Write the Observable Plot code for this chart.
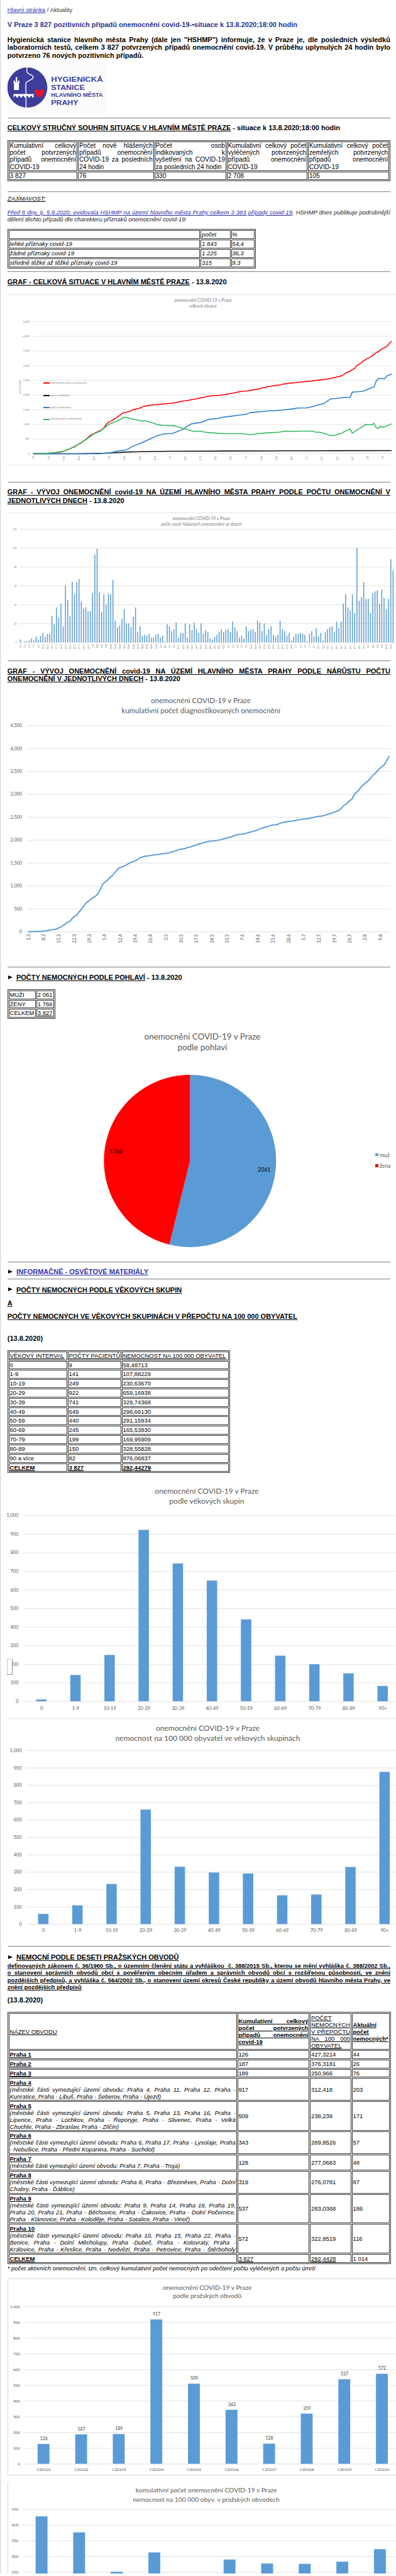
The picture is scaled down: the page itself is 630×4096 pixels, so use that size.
<!DOCTYPE html>
<html lang="cs"><head><meta charset="utf-8">
<script src="https://cdn.jsdelivr.net/npm/d3@7"></script>
<script src="https://cdn.jsdelivr.net/npm/@observablehq/plot@0.6"></script>
<style>
html,body{margin:0;padding:0;background:#fff;}
#page{position:relative;width:800px;height:5200px;overflow:hidden;zoom:0.787;font-family:"Liberation Sans",Arial,sans-serif;color:#000;background:#fff;}
.a{position:absolute;white-space:nowrap;}
.u{text-decoration:underline;}
.b{font-weight:bold;}
.i{font-style:italic;}
.lnk{color:#2b2ba6;text-decoration:underline;}
.hr{position:absolute;left:15px;width:774px;height:0;border-top:1px solid #9a9a9a;border-bottom:1px solid #dedede;}
.j{text-align:justify;text-align-last:justify;white-space:nowrap;}
.tri{display:block;width:0;height:0;border-left:9px solid #000;border-top:4.5px solid transparent;border-bottom:4.5px solid transparent;}
table.t{position:absolute;border-collapse:separate;border-spacing:2px;border:1px solid #333;table-layout:fixed;font-size:13px;}
table.t td{border:1px solid #333;vertical-align:middle;white-space:nowrap;box-sizing:border-box;}
table.s12{font-size:12px;}
table.it td{font-style:italic;}
.ct{position:absolute;font-family:Lato,sans-serif;color:#595959;text-align:center;white-space:nowrap;transform:translateX(-50%);}
</style></head>
<body><div id="page"></div>
<script>
// ================= DATA =================
const dayLabels = d3.timeDay.range(new Date(2020, 2, 1), new Date(2020, 7, 14))
  .map(d => `${d.getDate()}.${d.getMonth() + 1}`);           // 1.3 ... 13.8
const newCases = [
  3,0,1,1,2,4,2,6,3,7,10,6,9,9,
  28,19,37,26,41,17,60,
  45,28,64,51,64,67,43,
  36,37,33,33,52,93,99,
  53,32,51,40,52,51,66,
  23,16,18,25,35,20,20,
  16,27,37,11,17,7,8,
  7,9,5,5,8,9,5,
  7,1,19,17,12,14,21,
  5,10,10,20,5,19,13,
  21,14,10,
  20,9,13,11,4,3,6,8,11,
  14,11,13,14,11,22,16,12,5,7,4,17,12,13,14,11,23,21,12,20,
  8,14,17,8,6,8,23,14,12,7,10,2,6,9,9,10,9,8,1,9,12,6,15,6,10,2,11,14,16,17,11,22,15,22,41,51,37,34,51,31,100,
  44,48,64,46,46,31,52,54,55,41,56,47,35,46,
  88,76];
const weekTicks = [0,7,14,21,28,35,42,49,56,63,70,77,84,91,98,105,112,119,126,133,140,147,154,161];
const cumTicks = [0,500,1000,1500,2000,2500,3000,3500,4000,4500];
const dailyTicks = [0,20,40,60,80,100,120];
const recovered = [[0,0],[30,0],[35,28],[39,95],[43,135],[46,264],[49,343],[52,444],[55,545],[57,612],[60,674],[64,690],[66,742],[69,837],[71,938],[73,1023],[77,1062],[78,1085],[81,1175],[85,1197],[87,1242],[91,1276],[94,1304],[98,1343],[100,1399],[105,1433],[108,1455],[112,1472],[115,1489],[119,1523],[122,1556],[126,1562],[129,1613],[131,1658],[134,1714],[137,1871],[139,1877],[142,1905],[144,1916],[146,1916],[147,2101],[149,2107],[152,2130],[155,2220],[157,2276],[158,2484],[159,2557],[162,2557],[163,2653],[165,2708]];
const deaths = [[0,0],[21,0],[24,2],[28,8],[33,20],[35,30],[40,45],[42,55],[49,70],[56,78],[63,83],[84,88],[88,93],[112,97],[114,101],[140,103],[165,105]];
const active = [[0,0],[7,19],[10,39],[14,90],[17,170],[21,330],[24,470],[28,680],[31,775],[33,900],[35,1006],[38,1096],[42,1236],[43,1242],[45,1191],[49,1130],[50,1107],[51,1130],[55,1051],[57,995],[59,967],[65,955],[68,882],[71,826],[74,759],[77,770],[79,731],[82,714],[87,686],[92,686],[96,686],[100,646],[103,680],[108,714],[113,731],[116,770],[120,759],[124,770],[129,770],[130,731],[132,731],[135,669],[137,613],[139,630],[142,697],[144,781],[146,843],[147,697],[149,798],[152,939],[153,995],[156,984],[157,1034],[158,882],[159,866],[160,939],[161,894],[165,1014]];

const summaryHeads = [
  ["Kumulativní celkový","počet potvrzených","případů onemocnění","COVID-19"],
  ["Počet nově hlášených","případů onemocnění","COVID-19 za posledních","24 hodin"],
  ["Počet osob","indikovaných k","vyšetření na COVID-19","za posledních 24 hodin"],
  ["Kumulativní celkový počet","vyléčených potvrzených","případů onemocnění","COVID-19"],
  ["Kumulativní celkový počet","zemřelých potvrzených","případů onemocnění","COVID-19"]];
const summaryValues = ["3 827","76","330","2 708","105"];

const symptomLabels = ["lehké příznaky covid-19","žádné příznaky covid-19","středně těžké až těžké příznaky covid-19"];
const symptomCounts = ["1 843","1 225","315"];
const symptomPct = ["54,4","36,3","9,3"];

const genderLabels = ["muž","žena"];
const genderValues = [2061, 1766];
const genderColors = ["#5b9bd5","#ff0000"];

const ageGroups = ["0","1-9","10-19","20-29","30-39","40-49","50-59","60-69","70-79","80-89","90+"];
const ageTableLabels = ["0","1-9","10-19","20-29","30-39","40-49","50-59","60-69","70-79","80-89","90 a více"];
const ageCases = [9,141,249,922,741,649,440,245,199,150,82];
const ageRate = [58.48713,107.88229,230.6367,659.16938,329.74368,296.6613,291.15934,165.5383,169.95909,328.55828,876.06837];
const ageTicks = [0,100,200,300,400,500,600,700,800,900,1000];

const districtNames = ["Praha 1","Praha 2","Praha 3","Praha 4","Praha 5","Praha 6","Praha 7","Praha 8","Praha 9","Praha 10"];
const districtCodes = ["CZ0101","CZ0102","CZ0103","CZ0104","CZ0105","CZ0106","CZ0107","CZ0108","CZ0109","CZ010A"];
const districtCases = [126,187,189,917,509,343,128,319,537,572];
const districtRate = [427.3214,376.3181,250.966,312.418,238.239,289.8526,277.0683,276.0781,283.0368,322.8519];
const districtActive = [44,26,76,203,171,57,48,87,186,116];
const districtParts = [[],[],[],
  ["(městské části vymezující území obvodu: Praha 4, Praha 11, Praha 12, Praha -","Kunratice, Praha - Libuš, Praha - Šeberov, Praha - Újezd)"],
  ["(městské části vymezující území obvodu: Praha 5, Praha 13, Praha 16, Praha -","Lipence, Praha - Lochkov, Praha - Řeporyje, Praha - Slivenec, Praha - Velká","Chuchle, Praha - Zbraslav, Praha - Zličín)"],
  ["(městské části vymezující území obvodu: Praha 6, Praha 17, Praha - Lysolaje, Praha","- Nebušice, Praha - Přední Kopanina, Praha - Suchdol)"],
  ["(městské části vymezující území obvodu: Praha 7, Praha - Troja)"],
  ["(městské části vymezující území obvodu: Praha 8, Praha - Březiněves, Praha - Dolní","Chabry, Praha - Ďáblice)"],
  ["(městské části vymezující území obvodu: Praha 9, Praha 14, Praha 18, Praha 19,","Praha 20, Praha 21, Praha - Běchovice, Praha - Čakovice, Praha - Dolní Počernice,","Praha - Klánovice, Praha - Koloděje, Praha - Satalice, Praha - Vinoř)"],
  ["(městské části vymezující území obvodu: Praha 10, Praha 15, Praha 22, Praha -","Benice, Praha - Dolní Měcholupy, Praha -Dubeč, Praha - Kolovraty, Praha -","Královice, Praha - Křeslice, Praha - Nedvězí, Praha - Petrovice, Praha - Štěrboholy"]];
const districtTicks = [0,100,200,300,400,500,600,700,800,900,1000];
const rateTicks = [250,300,350,400,450];   // the ticks visible above the page's lower edge

// ================= HELPERS =================
const page = document.getElementById("page");
function put(x, y, html, css = "") {
  const d = document.createElement("div");
  d.className = "a";
  d.style.cssText = `left:${x}px;top:${y}px;${css}`;
  d.innerHTML = html;
  page.appendChild(d);
  return d;
}
function line(x, yc, html, {size = 13, lh = 16, css = ""} = {}) {
  return put(x, yc - lh / 2, html, `font-size:${size}px;line-height:${lh}px;${css}`);
}
function hr(y) { const d = document.createElement("div"); d.className = "hr"; d.style.top = (y - 1) + "px"; page.appendChild(d); }
function jl(lines, lastJ = false) {
  return lines.map((l, i) => `<div class="${(i < lines.length - 1 || lastJ) ? "j" : ""}">${l}</div>`).join("");
}
function secHead(yc, html, css = "") {
  put(17, yc - 4.5, `<span class="tri"></span>`);
  line(33, yc, html, {size: 14, css: "font-weight:bold;" + css});
}
function ctitle(xc, yc, text, size, color = "#595959") {
  const d = document.createElement("div");
  d.className = "ct";
  d.style.cssText = `left:${xc}px;top:${yc - size * 0.65}px;font-size:${size}px;line-height:${size * 1.3}px;color:${color}`;
  d.textContent = text;
  page.appendChild(d);
}
function box(x, y, w, h, css) { return put(x, y, "", `width:${w}px;height:${h}px;${css}`); }
function table(x, y, B, rows, {lh = 15, pad = "0 1px", cls = ""} = {}) {
  const t = document.createElement("table");
  t.className = "t " + cls;
  t.style.cssText = `left:${x}px;top:${y}px;width:${B[B.length - 1] - B[0]}px;line-height:${lh}px;`;
  rows.forEach((r, ri) => {
    const tr = t.insertRow();
    r.forEach((c, ci) => {
      const td = tr.insertCell();
      if (ri === 0) td.style.width = (B[ci + 1] - B[ci] - 2) + "px";
      td.style.padding = pad;
      td.innerHTML = c;
    });
  });
  page.appendChild(t);
  return t;
}
function mount(svg, x, y) { const d = put(x, y, ""); d.appendChild(svg); return d; }

// ================= PAGE TEXT =================
box(0, 0, 1.5, 5200, "background:#d0d0d0");
line(15, 21, `<span class="lnk" style="color:#3434a8">Hlavní stránka</span> <span style="color:#333">/ Aktuality</span>`, {size: 12});
line(15, 50, "V Praze 3 827 pozitivních případů onemocnění covid-19-•situace k 13.8.2020;18:00 hodin", {size: 14, css: "font-weight:bold;color:#2a3590"});
put(15, 72, jl([
  `Hygienická stanice hlavního města Prahy (dále jen "HSHMP") informuje, že v Praze je, dle posledních výsledků`,
  `laboratorních testů, celkem 3 827 potvrzených případů onemocnění covid-19. V průběhu uplynulých 24 hodin bylo`,
  `potvrzeno 76 nových pozitivních případů.`]), "width:774px;font-size:14px;line-height:16px;font-weight:bold");

// logo
put(15, 131, `<svg width="200" height="100" viewBox="0 0 200 100">
<rect width="200" height="100" fill="#fbfbfb"/>
<circle cx="40" cy="46" r="40.5" fill="#3d3d9b"/>
<g fill="#fff">
<rect x="13" y="36" width="10" height="15"/>
<rect x="12" y="32" width="3" height="5"/><rect x="16.5" y="32" width="3" height="5"/><rect x="21" y="32" width="3" height="5"/>
<rect x="16.5" y="25" width="3" height="8"/>
<path d="M12 59 H53 V66 H49.5 V63.5 Q47.5 61.5 45.5 63.5 V66 H41.5 V63.5 Q39.5 61.5 37.5 63.5 V66 H33.5 V63.5 Q31.5 61.5 29.5 63.5 V66 H25.5 V63.5 Q23.5 61.5 21.5 63.5 V66 H17.5 V63.5 Q15.5 61.5 13.5 63.5 V66 H12Z"/>
</g>
<path d="M39.5 1 L39 14 C39 19 52 19.5 52 25.5 C52 31.5 37 31 37 38 L37.5 92" fill="none" stroke="#fff" stroke-width="1.8"/>
<path d="M64.5 67 C53 58 53 50 58.5 49.5 C61.5 49.2 63.5 51 64.5 53 C65.5 51 67.5 49.2 70.5 49.5 C76 50 76 58 64.5 67Z" fill="#e8112d"/>
<g fill="#3d3d9b" font-family="Liberation Sans Narrow, Liberation Sans, Arial" font-weight="bold">
<text x="88" y="34.7" font-size="14" textLength="105" lengthAdjust="spacingAndGlyphs">HYGIENICKÁ</text>
<text x="88" y="50.7" font-size="14" textLength="68" lengthAdjust="spacingAndGlyphs">STANICE</text>
<text x="88" y="64.7" font-size="10.5" textLength="105" lengthAdjust="spacingAndGlyphs">HLAVNÍHO MĚSTA</text>
<text x="88" y="80.7" font-size="15" textLength="55" lengthAdjust="spacingAndGlyphs">PRAHY</text>
</g></svg>`);

hr(238);
line(15, 258, `<span class="u">CELKOVÝ STRUČNÝ SOUHRN SITUACE V HLAVNÍM MĚSTĚ PRAZE</span> - situace k 13.8.2020;18:00 hodin`, {size: 14, css: "font-weight:bold"});
table(15, 283, [15,156,311,458,623,789], [summaryHeads.map(h => jl(h)), summaryValues], {lh: 14.4});

hr(387);
line(15, 401, `<span class="u">ZAJÍMAVOST:</span>`, {size: 12, lh: 15, css: "font-style:italic"});
put(15, 422, jl([
  `<span class="lnk">Před 8 dny, tj. 5.8.2020, evidovala HSHMP na území hlavního města Prahy celkem 3 383 případy covid-19</span>, HSHMP dnes publikuje podrobnější`,
  `dělení těchto případů dle charekteru příznaků onemocnění covid-19:`]), "width:774px;font-size:12px;line-height:14px;font-style:italic;color:#222");
table(15, 463, [15,404,466,516],
  [["", "počet", "%"], ...symptomLabels.map((l, i) => [l, symptomCounts[i], symptomPct[i]])], {cls: "it s12"});

hr(549);
line(15, 570, `<span class="u">GRAF - CELKOVÁ SITUACE V HLAVNÍM MĚSTĚ PRAZE</span> - 13.8.2020`, {size: 14, css: "font-weight:bold"});

// ================= CHART 1: celková situace =================
box(15, 595, 785, 0, "border-top:1px solid #e4e4e4");
box(15, 939, 774, 0, "border-top:1px solid #e4e4e4");
ctitle(410, 607, "onemocnění COVID-19 v Praze", 8.5, "#7a7a7a");
ctitle(410, 618, "celková situace", 8.5, "#7a7a7a");
const caseRows = newCases.map((n, day) => ({day, n, date: dayLabels[day]}));
const c1 = Plot.plot({
  width: 800, height: 310, marginTop: 19, marginBottom: 24, marginLeft: 66, marginRight: 6,
  style: {fontFamily: "Lato, sans-serif", fontSize: "5px", color: "#7a7a7a", background: "none", overflow: "visible"},
  x: {type: "linear", domain: [0, 165], range: [67, 790.7], ticks: weekTicks, tickFormat: i => dayLabels[i], tickRotate: -90, tickSize: 0, tickPadding: 4, label: null},
  y: {domain: [0, 4500], ticks: cumTicks, tickSize: 0, tickPadding: 7, label: null},
  marks: [
    Plot.ruleY(cumTicks, {stroke: "#dcdcdc"}),
    Plot.lineY(caseRows, Plot.mapY("cumsum", {x: "day", y: "n", stroke: "#ff0000", strokeWidth: 2})),
    Plot.line(deaths, {x: d => d[0], y: d => d[1], stroke: "#111", strokeWidth: 2}),
    Plot.line(recovered, {x: d => d[0], y: d => d[1], stroke: "#2e7fd0", strokeWidth: 2}),
    Plot.line(active, {x: d => d[0], y: d => d[1], stroke: "#33bb5e", strokeWidth: 2})
  ]
});
mount(c1, 0, 630);
const c1Legend = [["kumulativní počet onemocnění", "#ff0000", 774], ["počet zemřelých", "#111", 799], ["počet vyléčených", "#2e7fd0", 823], ["aktuální počet nakažených", "#33bb5e", 847]];
c1Legend.forEach(([t, c, y]) => {
  box(88, y - 1.2, 13, 2.4, `background:${c}`);
  put(102, y - 4, t, "font-family:Lato,sans-serif;font-size:5.5px;line-height:8px;color:#7a7a7a");
});
put(41, 782, "počet osob", "font-family:Lato,sans-serif;font-size:5.5px;line-height:7px;color:#7a7a7a;transform:translate(-50%,-50%) rotate(-90deg)");

hr(974);
put(15, 986.5, jl([
  `<span class="u">GRAF - VÝVOJ ONEMOCNĚNÍ covid-19 NA ÚZEMÍ HLAVNÍHO MĚSTA PRAHY PODLE POČTU ONEMOCNĚNÍ V</span>`,
  `<span class="u">JEDNOTLIVÝCH DNECH</span> - 13.8.2020`]), "width:774px;font-size:14px;line-height:17px;font-weight:bold");

// ================= CHART 2: daily bars =================
box(15, 1036, 785, 0, "border-top:1px solid #e4e4e4");
ctitle(407, 1047, "onemocnění COVID-19 v Praze", 8.5, "#7a7a7a");
ctitle(407, 1059, "počty nově hlášených onemocnění ve dnech", 8.5, "#7a7a7a");
const c2 = Plot.plot({
  width: 800, height: 255, marginTop: 4, marginBottom: 22, marginLeft: 38.5, marginRight: 0,
  style: {fontFamily: "Lato, sans-serif", fontSize: "4.8px", color: "#7a7a7a", background: "none", overflow: "visible"},
  x: {type: "band", domain: dayLabels, range: [38.7, 796.9], paddingInner: 0.58, paddingOuter: 0.29, ticks: dayLabels.filter((d, i) => i % 2 === 0), tickRotate: -90, tickSize: 0, tickPadding: 4, label: null},
  y: {domain: [0, 120], ticks: dailyTicks, tickSize: 0, tickPadding: 5, label: null},
  marks: [
    Plot.ruleY(dailyTicks, {stroke: "#dcdcdc"}),
    Plot.barY(caseRows, {x: "date", y: "n", fill: "#5b9bd5"})
  ]
});
mount(c2, 0, 1065);

hr(1335);
put(15, 1348, jl([
  `<span class="u">GRAF - VÝVOJ ONEMOCNĚNÍ covid-19 NA ÚZEMÍ HLAVNÍHO MĚSTA PRAHY PODLE NÁRŮSTU POČTU</span>`,
  `<span class="u">ONEMOCNĚNÍ V JEDNOTLIVÝCH DNECH</span> - 13.8.2020`]), "width:774px;font-size:14px;line-height:16px;font-weight:bold");

// ================= CHART 3: cumulative =================
ctitle(406, 1415, "onemocnění COVID-19 v Praze", 14.7);
ctitle(406, 1435, "kumulativní počet diagnostikovaných onemocnění", 14.7);
const c3 = Plot.plot({
  width: 800, height: 460, marginTop: 10.7, marginBottom: 32.7, marginLeft: 55, marginRight: 11,
  style: {fontFamily: "Lato, sans-serif", fontSize: "9.2px", color: "#595959", background: "none", overflow: "visible"},
  x: {type: "linear", domain: [0, 165], range: [57, 786.3], ticks: weekTicks, tickFormat: i => dayLabels[i], tickRotate: -90, tickSize: 0, tickPadding: 4.5, label: null},
  y: {domain: [0, 4500], ticks: cumTicks, tickSize: 0, tickPadding: 11, label: null},
  marks: [
    Plot.ruleY(cumTicks, {stroke: "#d9d9d9"}),
    Plot.lineY(caseRows, Plot.mapY("cumsum", {x: "day", y: "n", stroke: "#5b9bd5", strokeWidth: 2.5}))
  ]
});
mount(c3, 0, 1455);

hr(1954);
secHead(1975, `<span class="u">POČTY NEMOCNÝCH PODLE POHLAVÍ</span> - 13.8.2020`);
table(15, 1998.5, [15,72,110], [["MUŽI","2 061"],["ŽENY","1 766"],["CELKEM",`<span class="u">3 827</span>`]], {cls: "s12"});

// ================= PIE =================
ctitle(409, 2095, "onemocnění COVID-19 v Praze", 17.1);
ctitle(409, 2117, "podle pohlaví", 17.1);
const genderRows = genderLabels.map((label, i) => ({label, v: genderValues[i], color: genderColors[i]}));
const arcs = d3.pie().sort(null).value(d => d.v)(genderRows);
const pcx = 383.6, pcy = 185, pR = 174, pL = 151;
const sliceFeatures = arcs.map(a => {
  const ring = [[pcx, pcy]];
  const n = Math.ceil((a.endAngle - a.startAngle) / 0.01);
  for (let k = 0; k <= n; k++) {
    const t = a.startAngle + (a.endAngle - a.startAngle) * k / n;
    ring.push([pcx + pR * Math.sin(t), pcy - pR * Math.cos(t)]);
  }
  ring.push([pcx, pcy]);
  return {type: "Feature", properties: {color: a.data.color}, geometry: {type: "Polygon", coordinates: [ring]}};
});
const mid = a => (a.startAngle + a.endAngle) / 2;
const pie = Plot.plot({
  width: 800, height: 370, margin: 0,
  projection: d3.geoIdentity(),
  style: {fontFamily: "Lato, sans-serif", background: "none", overflow: "visible"},
  marks: [
    Plot.geo(sliceFeatures, {fill: d => d.properties.color, stroke: "none"}),
    Plot.text(arcs, {x: a => pcx + pL * Math.sin(mid(a)), y: a => pcy - pL * Math.cos(mid(a)), text: a => String(a.data.v), fill: "#000", fontSize: 11.2})
  ]
});
mount(pie, 0, 2160);
genderRows.forEach((g, i) => {
  const y = 2333 + i * 22;
  box(759, y - 3, 6, 6, `background:${g.color}`);
  put(767.5, y - 7, g.label, "font-family:Lato,sans-serif;font-size:11px;line-height:14px;color:#595959");
});

hr(2550);
secHead(2570, `<span class="lnk" style="color:#3434a8">INFORMAČNĚ - OSVĚTOVÉ MATERIÁLY</span>`);
hr(2584);
secHead(2606, `<span class="u">POČTY NEMOCNÝCH PODLE VĚKOVÝCH SKUPIN</span>`);
line(15, 2633, `<span class="u">A</span>`, {size: 14, css: "font-weight:bold"});
line(15, 2660, `<span class="u">POČTY NEMOCNÝCH VE VĚKOVÝCH SKUPINÁCH V PŘEPOČTU NA 100 000 OBYVATEL</span>`, {size: 14, css: "font-weight:bold"});
line(15, 2704, "(13.8.2020)", {size: 14, css: "font-weight:bold"});
table(15, 2727.8, [15,135,245,464], [
  [`<span class="u">VĚKOVÝ INTERVAL</span>`, `<span class="u">POČTY PACIENTŮ</span>`, `<span class="u">NEMOCNOST NA 100 000 OBYVATEL</span>`],
  ...ageTableLabels.map((l, i) => [l, String(ageCases[i]), ageRate[i].toFixed(5).replace(".", ",")]),
  [`<span class="u b">CELKEM</span>`, `<span class="u b">3 827</span>`, `<span class="u b">292,44279</span>`]
], {cls: "s12"});

// ================= AGE CHART 1 =================
ctitle(418, 3012, "onemocnění COVID-19 v Praze", 15.3);
ctitle(418, 3033, "podle věkových skupin", 15.3);
const ageRows = ageGroups.map((g, i) => ({g, n: ageCases[i], r: ageRate[i]}));
const a1 = Plot.plot({
  width: 800, height: 410, marginTop: 7, marginBottom: 27.5, marginLeft: 47, marginRight: 0,
  style: {fontFamily: "Lato, sans-serif", fontSize: "9.5px", color: "#595959", background: "none", overflow: "visible"},
  x: {type: "band", domain: ageGroups, range: [46.8, 809.7], paddingInner: 0.7, paddingOuter: 0.35, tickSize: 0, tickPadding: 11, label: null},
  y: {domain: [0, 1000], ticks: ageTicks, tickSize: 0, tickPadding: 10, label: null},
  marks: [
    Plot.ruleY(ageTicks, {stroke: "#d9d9d9"}),
    Plot.barY(ageRows, {x: "g", y: "n", fill: "#5b9bd5"})
  ]
});
mount(a1, 0, 3055);
box(14, 3352, 12, 32, "background:#fff;border:1px solid #c8c8c8;border-right:2px solid #8a8a8a;border-bottom:2px solid #8a8a8a;box-sizing:border-box");

// ================= AGE CHART 2 =================
box(15, 3472, 785, 0, "border-top:1px solid #e0e0e0");
ctitle(420, 3492, "onemocnění COVID-19 v Praze", 15.3);
ctitle(420, 3512, "nemocnost na 100 000 obyvatel ve věkových skupinách", 15.3);
const a2 = Plot.plot({
  width: 800, height: 390, marginTop: 11.6, marginBottom: 27.4, marginLeft: 54, marginRight: 0,
  style: {fontFamily: "Lato, sans-serif", fontSize: "9.5px", color: "#595959", background: "none", overflow: "visible"},
  x: {type: "band", domain: ageGroups, range: [53.5, 812.5], paddingInner: 0.69, paddingOuter: 0.345, tickSize: 0, tickPadding: 9, label: null},
  y: {domain: [0, 1000], ticks: ageTicks, tickSize: 0, tickPadding: 10.4, label: null},
  marks: [
    Plot.ruleY(ageTicks, {stroke: "#d9d9d9"}),
    Plot.barY(ageRows, {x: "g", y: "r", fill: "#5b9bd5"})
  ]
});
mount(a2, 0, 3525);

hr(3933);
secHead(3954.6, `<span class="u">NEMOCNÍ PODLE DESETI PRAŽSKÝCH OBVODŮ</span>`);
put(15, 3964.4, jl([
  `<span class="u">definovaných zákonem č. 36/1960 Sb., o územním členění státu a vyhláškou&nbsp; č. 388/2015 Sb., kterou se mění vyhláška č. 388/2002 Sb.,</span>`,
  `<span class="u">o stanovení správních obvodů obcí s pověřeným obecním úřadem a správních obvodů obcí s rozšířenou působností, ve znění</span>`,
  `<span class="u">pozdějších předpisů, a vyhláška č. 564/2002 Sb., o stanovení území okresů České republiky a území obvodů hlavního města Prahy, ve</span>`,
  `<span class="u">znění pozdějších předpisů</span>`]), "width:774px;font-size:12px;line-height:14.4px;font-weight:bold");
line(15, 4040.8, "(13.8.2020)", {size: 14, css: "font-weight:bold"});

table(15, 4065, [15,478,625.6,711,789], [
  [`<span class="u">NÁZEV OBVODU</span>`,
   `<div class="b">${jl(["<span class='u'>Kumulativní celkový</span>","<span class='u'>počet potvrzených</span>","<span class='u'>případů onemocnění</span>","<span class='u'>covid-19</span>"])}</div>`,
   jl(["<span class='u'>POČET</span>","<span class='u'>NEMOCNÝCH</span>","<span class='u'>V PŘEPOČTU</span>","<span class='u'>NA 100 000</span>","<span class='u'>OBYVATEL</span>"], true),
   `<div class="b">${["Aktuální","počet","nemocných*"].map(s => `<div><span class="u">${s}</span></div>`).join("")}</div>`],
  ...districtNames.map((nm, i) => [
    `<div class="b u">${nm}</div>` + (districtParts[i].length ? `<div class="i">${jl(districtParts[i], i === 9)}</div>` : ""),
    String(districtCases[i]), String(districtRate[i]).replace(".", ","), String(districtActive[i])]),
  [`<span class="u b">CELKEM</span>`, `<span class="u">3 827</span>`, `<span class="u">292,4428</span>`, "1 014"]
], {lh: 14, pad: "0.5px 1px", cls: "s12"});
line(15, 4583, "* počet aktivních onemocnění, tzn. celkový kumulativní počet nemocných po odečtení počtu vyléčených a počtu úmrtí", {size: 12, lh: 15, css: "font-style:italic"});

// ================= DISTRICT CHART 1 =================
box(15, 4604, 790, 397, "border:1px solid #d9d9d9;border-right:none;box-sizing:border-box");
ctitle(419, 4622, "onemocnění COVID-19 v Praze", 13.1);
ctitle(419, 4639, "podle pražských obvodů", 13.1);
const distRows = districtCodes.map((code, i) => ({code, n: districtCases[i], r: districtRate[i]}));
const d1 = Plot.plot({
  width: 800, height: 350, marginTop: 9.3, marginBottom: 22.7, marginLeft: 50, marginRight: 0,
  style: {fontFamily: "Lato, sans-serif", fontSize: "8px", color: "#595959", background: "none", overflow: "visible"},
  x: {type: "band", domain: districtCodes, range: [48.9, 810.9], paddingInner: 0.685, paddingOuter: 0.3425, tickSize: 0, tickPadding: 8.6, label: null},
  y: {domain: [0, 1000], ticks: districtTicks, tickSize: 0, tickPadding: 10, label: null},
  marks: [
    Plot.ruleY(districtTicks, {stroke: "#d9d9d9"}),
    Plot.barY(distRows, {x: "code", y: "n", fill: "#5b9bd5"}),
    Plot.text(distRows, {x: "code", y: "n", text: d => String(d.n), dy: -11, fill: "#404040", fontSize: 8.8})
  ]
});
mount(d1, 0, 4650);

// ================= DISTRICT CHART 2 (cut by the page's lower edge) =================
box(15, 5015, 1, 185, "background:#d9d9d9");
ctitle(417, 5032, "kumulativní počet onemocnění COVID-19 v Praze", 13.1);
ctitle(417, 5050, "nemocnost na 100 000 obyv. v pražských obvodech", 13.1);
const d2 = Plot.plot({
  width: 800, height: 330, marginTop: 10, marginBottom: 34.7, marginLeft: 45, marginRight: 0,
  style: {fontFamily: "Lato, sans-serif", fontSize: "8px", color: "#595959", background: "none", overflow: "visible"},
  x: {type: "band", domain: districtCodes, range: [44.4, 808.4], paddingInner: 0.68, paddingOuter: 0.34, axis: null},
  y: {domain: [0, 450], ticks: rateTicks, tickSize: 0, tickPadding: 8, label: null},
  marks: [
    Plot.ruleY(rateTicks, {stroke: "#d9d9d9"}),
    Plot.barY(distRows, {x: "code", y: "r", fill: "#5b9bd5"})
  ]
});
mount(d2, 0, 5060);
</script>
</body></html>
